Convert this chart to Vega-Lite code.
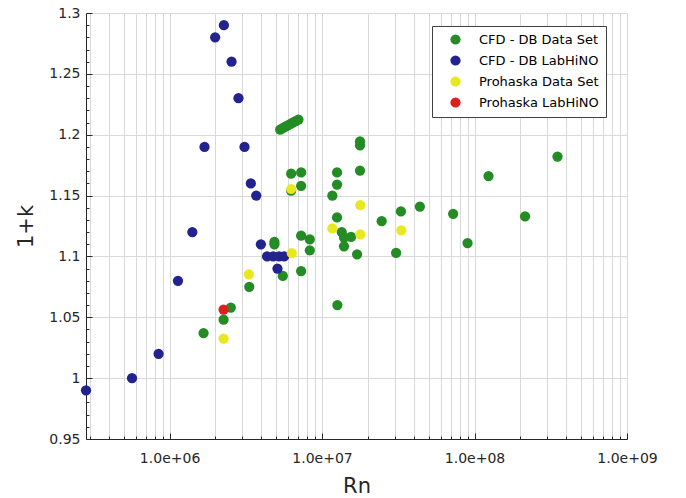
{
  "$schema": "https://vega.github.io/schema/vega-lite/v6.json",
  "autosize": "none",
  "width": 541,
  "height": 426,
  "padding": {"left": 86, "top": 13, "right": 59, "bottom": 59},
  "background": "white",
  "config": {
    "view": {"stroke": null},
    "axis": {
      "labelFont": "DejaVu Sans",
      "labelFontSize": 14,
      "labelColor": "#262626",
      "titleFont": "DejaVu Sans",
      "titleFontSize": 21,
      "titleFontWeight": "normal",
      "titleColor": "#262626",
      "domainColor": "#262626",
      "tickColor": "#262626",
      "gridColor": "#d9d9d9",
      "gridWidth": 1
    }
  },
  "data": {
    "values": [
      {"Rn": 1.67e6, "k1": 1.037, "s": "CFD - DB Data Set"},
      {"Rn": 2.26e6, "k1": 1.048, "s": "CFD - DB Data Set"},
      {"Rn": 2.52e6, "k1": 1.058, "s": "CFD - DB Data Set"},
      {"Rn": 3.33e6, "k1": 1.075, "s": "CFD - DB Data Set"},
      {"Rn": 4.87e6, "k1": 1.112, "s": "CFD - DB Data Set"},
      {"Rn": 4.87e6, "k1": 1.110, "s": "CFD - DB Data Set"},
      {"Rn": 5.53e6, "k1": 1.084, "s": "CFD - DB Data Set"},
      {"Rn": 7.29e6, "k1": 1.117, "s": "CFD - DB Data Set"},
      {"Rn": 8.31e6, "k1": 1.114, "s": "CFD - DB Data Set"},
      {"Rn": 8.31e6, "k1": 1.105, "s": "CFD - DB Data Set"},
      {"Rn": 7.29e6, "k1": 1.088, "s": "CFD - DB Data Set"},
      {"Rn": 5.31e6, "k1": 1.2042, "s": "CFD - DB Data Set"},
      {"Rn": 5.52e6, "k1": 1.2054, "s": "CFD - DB Data Set"},
      {"Rn": 5.74e6, "k1": 1.2066, "s": "CFD - DB Data Set"},
      {"Rn": 5.97e6, "k1": 1.2077, "s": "CFD - DB Data Set"},
      {"Rn": 6.21e6, "k1": 1.2089, "s": "CFD - DB Data Set"},
      {"Rn": 6.46e6, "k1": 1.2101, "s": "CFD - DB Data Set"},
      {"Rn": 6.72e6, "k1": 1.2112, "s": "CFD - DB Data Set"},
      {"Rn": 7.0e6, "k1": 1.2124, "s": "CFD - DB Data Set"},
      {"Rn": 6.27e6, "k1": 1.168, "s": "CFD - DB Data Set"},
      {"Rn": 6.27e6, "k1": 1.154, "s": "CFD - DB Data Set"},
      {"Rn": 7.29e6, "k1": 1.169, "s": "CFD - DB Data Set"},
      {"Rn": 7.29e6, "k1": 1.158, "s": "CFD - DB Data Set"},
      {"Rn": 1.254e7, "k1": 1.169, "s": "CFD - DB Data Set"},
      {"Rn": 1.254e7, "k1": 1.159, "s": "CFD - DB Data Set"},
      {"Rn": 1.168e7, "k1": 1.150, "s": "CFD - DB Data Set"},
      {"Rn": 1.774e7, "k1": 1.1946, "s": "CFD - DB Data Set"},
      {"Rn": 1.774e7, "k1": 1.1913, "s": "CFD - DB Data Set"},
      {"Rn": 1.774e7, "k1": 1.1705, "s": "CFD - DB Data Set"},
      {"Rn": 1.254e7, "k1": 1.132, "s": "CFD - DB Data Set"},
      {"Rn": 2.46e7, "k1": 1.129, "s": "CFD - DB Data Set"},
      {"Rn": 3.29e7, "k1": 1.137, "s": "CFD - DB Data Set"},
      {"Rn": 4.38e7, "k1": 1.141, "s": "CFD - DB Data Set"},
      {"Rn": 1.346e7, "k1": 1.120, "s": "CFD - DB Data Set"},
      {"Rn": 1.393e7, "k1": 1.1155, "s": "CFD - DB Data Set"},
      {"Rn": 1.549e7, "k1": 1.116, "s": "CFD - DB Data Set"},
      {"Rn": 1.393e7, "k1": 1.1083, "s": "CFD - DB Data Set"},
      {"Rn": 1.697e7, "k1": 1.1017, "s": "CFD - DB Data Set"},
      {"Rn": 3.06e7, "k1": 1.103, "s": "CFD - DB Data Set"},
      {"Rn": 1.26e7, "k1": 1.060, "s": "CFD - DB Data Set"},
      {"Rn": 7.24e7, "k1": 1.135, "s": "CFD - DB Data Set"},
      {"Rn": 9.0e7, "k1": 1.111, "s": "CFD - DB Data Set"},
      {"Rn": 1.235e8, "k1": 1.166, "s": "CFD - DB Data Set"},
      {"Rn": 2.145e8, "k1": 1.133, "s": "CFD - DB Data Set"},
      {"Rn": 3.50e8, "k1": 1.182, "s": "CFD - DB Data Set"},
      {"Rn": 2.83e5, "k1": 0.99, "s": "CFD - DB LabHiNO"},
      {"Rn": 5.67e5, "k1": 1.0, "s": "CFD - DB LabHiNO"},
      {"Rn": 8.47e5, "k1": 1.02, "s": "CFD - DB LabHiNO"},
      {"Rn": 1.135e6, "k1": 1.08, "s": "CFD - DB LabHiNO"},
      {"Rn": 1.41e6, "k1": 1.12, "s": "CFD - DB LabHiNO"},
      {"Rn": 1.695e6, "k1": 1.19, "s": "CFD - DB LabHiNO"},
      {"Rn": 1.99e6, "k1": 1.28, "s": "CFD - DB LabHiNO"},
      {"Rn": 2.27e6, "k1": 1.29, "s": "CFD - DB LabHiNO"},
      {"Rn": 2.55e6, "k1": 1.26, "s": "CFD - DB LabHiNO"},
      {"Rn": 2.83e6, "k1": 1.23, "s": "CFD - DB LabHiNO"},
      {"Rn": 3.10e6, "k1": 1.19, "s": "CFD - DB LabHiNO"},
      {"Rn": 3.41e6, "k1": 1.16, "s": "CFD - DB LabHiNO"},
      {"Rn": 3.70e6, "k1": 1.15, "s": "CFD - DB LabHiNO"},
      {"Rn": 3.97e6, "k1": 1.11, "s": "CFD - DB LabHiNO"},
      {"Rn": 4.36e6, "k1": 1.10, "s": "CFD - DB LabHiNO"},
      {"Rn": 4.78e6, "k1": 1.10, "s": "CFD - DB LabHiNO"},
      {"Rn": 5.23e6, "k1": 1.10, "s": "CFD - DB LabHiNO"},
      {"Rn": 5.64e6, "k1": 1.10, "s": "CFD - DB LabHiNO"},
      {"Rn": 5.10e6, "k1": 1.09, "s": "CFD - DB LabHiNO"},
      {"Rn": 2.26e6, "k1": 1.0325, "s": "Prohaska Data Set"},
      {"Rn": 3.31e6, "k1": 1.0853, "s": "Prohaska Data Set"},
      {"Rn": 6.33e6, "k1": 1.1028, "s": "Prohaska Data Set"},
      {"Rn": 6.27e6, "k1": 1.1554, "s": "Prohaska Data Set"},
      {"Rn": 1.168e7, "k1": 1.1231, "s": "Prohaska Data Set"},
      {"Rn": 1.782e7, "k1": 1.1422, "s": "Prohaska Data Set"},
      {"Rn": 1.782e7, "k1": 1.1182, "s": "Prohaska Data Set"},
      {"Rn": 3.31e7, "k1": 1.1214, "s": "Prohaska Data Set"},
      {"Rn": 2.26e6, "k1": 1.0563, "s": "Prohaska LabHiNO"}
    ]
  },
  "mark": {"type": "point", "filled": true, "opacity": 1, "size": 105, "shape": "circle", "clip": false},
  "encoding": {
    "x": {
      "field": "Rn",
      "type": "quantitative",
      "scale": {"type": "log", "domain": [283000, 1000000000], "nice": false},
      "axis": {
        "title": "Rn",
        "values": [300000, 400000, 500000, 600000, 700000, 800000, 900000, 1000000, 2000000, 3000000, 4000000, 5000000, 6000000, 7000000, 8000000, 9000000, 10000000, 20000000, 30000000, 40000000, 50000000, 60000000, 70000000, 80000000, 90000000, 100000000, 200000000, 300000000, 400000000, 500000000, 600000000, 700000000, 800000000, 900000000, 1000000000],
        "labelExpr": "(abs(log(datum.value)/LN10 - round(log(datum.value)/LN10)) < 0.001) ? ('1.0e+0' + round(log(datum.value)/LN10)) : ''",
        "tickSize": {"condition": {"test": "abs(log(datum.value)/LN10 - round(log(datum.value)/LN10)) < 0.001", "value": -6}, "value": -3},
        "labelPadding": 18,
        "labelFlush": false,
        "labelOverlap": false,
        "titlePadding": 7,
        "grid": true
      }
    },
    "y": {
      "field": "k1",
      "type": "quantitative",
      "scale": {"domain": [0.95, 1.3], "nice": false, "zero": false},
      "axis": {
        "title": "1+k",
        "values": [0.95, 0.96, 0.97, 0.98, 0.99, 1.0, 1.01, 1.02, 1.03, 1.04, 1.05, 1.06, 1.07, 1.08, 1.09, 1.1, 1.11, 1.12, 1.13, 1.14, 1.15, 1.16, 1.17, 1.18, 1.19, 1.2, 1.21, 1.22, 1.23, 1.24, 1.25, 1.26, 1.27, 1.28, 1.29, 1.3],
        "labelExpr": "(round(datum.value*100) % 5 == 0) ? toString(datum.value) : ''",
        "gridOpacity": {"condition": {"test": "round(datum.value*100) % 5 == 0", "value": 1}, "value": 0},
        "tickSize": {"condition": {"test": "round(datum.value*100) % 5 == 0", "value": -6}, "value": -3},
        "labelPadding": 12,
        "labelFlush": false,
        "labelOverlap": false,
        "titlePadding": 12,
        "grid": true
      }
    },
    "color": {
      "field": "s",
      "type": "nominal",
      "sort": null,
      "scale": {
        "domain": ["CFD - DB Data Set", "CFD - DB LabHiNO", "Prohaska Data Set", "Prohaska LabHiNO"],
        "range": ["#248c24", "#232390", "#e8e81e", "#e01e1e"]
      },
      "legend": {
        "title": null,
        "orient": "none",
        "legendX": 346,
        "legendY": 13,
        "direction": "vertical",
        "strokeColor": "#404040",
        "fillColor": "white",
        "padding": 7,
        "labelFont": "DejaVu Sans",
        "labelFontSize": 13,
        "labelColor": "#000000",
        "symbolType": "circle",
        "symbolSize": 105,
        "symbolStrokeWidth": 0,
        "symbolOpacity": 1,
        "symbolOffset": 10,
        "labelOffset": 17,
        "rowPadding": 7
      }
    }
  }
}
